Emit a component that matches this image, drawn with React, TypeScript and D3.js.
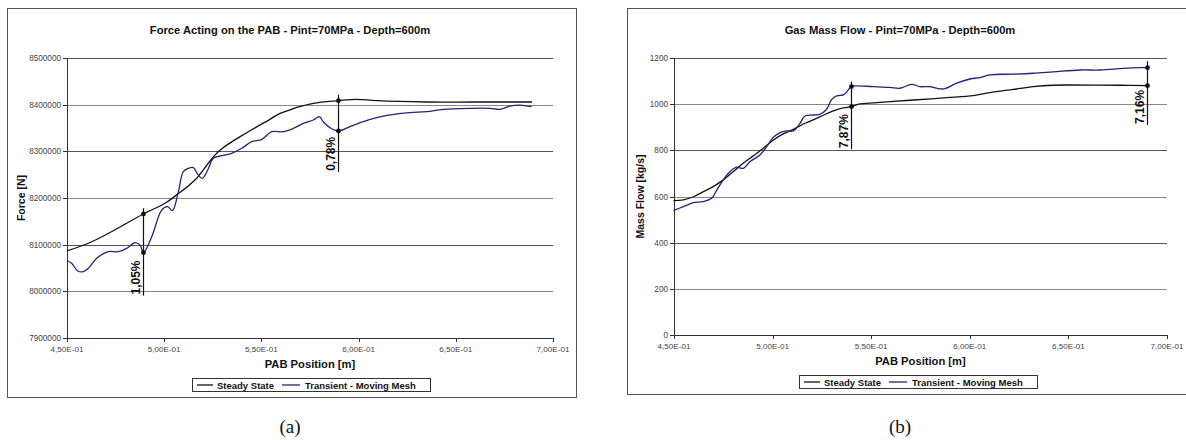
import React from "react";
import * as d3 from "d3";

// ---------- shared axis data ----------
const xTicks = [0.45, 0.5, 0.55, 0.6, 0.65, 0.7];
const xTickLabels = ["4,50E-01", "5,00E-01", "5,50E-01", "6,00E-01", "6,50E-01", "7,00E-01"];
const legendLabels = ["Steady State", "Transient - Moving Mesh"];

// ---------- chart (a): force ----------
const forceTicks = [7900000, 8000000, 8100000, 8200000, 8300000, 8400000, 8500000];
const forceSteadyX = [0.4503, 0.461, 0.4712, 0.4893, 0.5004, 0.5056, 0.5158, 0.5278, 0.5433, 0.5544, 0.5596, 0.5621, 0.5682, 0.5767, 0.5896, 0.599, 0.6093, 0.635, 0.66, 0.6892];
const forceSteadyY = [8087000, 8103000, 8124000, 8165700, 8188700, 8204000, 8238600, 8299300, 8342000, 8368600, 8381500, 8385000, 8394000, 8403000, 8408600, 8411400, 8408600, 8405700, 8405700, 8405700];
const forceTransX = [0.4503, 0.4524, 0.4555, 0.4584, 0.461, 0.4653, 0.4712, 0.4764, 0.4807, 0.485, 0.4876, 0.4893, 0.4936, 0.4987, 0.5018, 0.5042, 0.5073, 0.5098, 0.5124, 0.515, 0.5175, 0.5196, 0.5224, 0.5253, 0.5296, 0.5347, 0.5399, 0.545, 0.5502, 0.5553, 0.5613, 0.5664, 0.5716, 0.5767, 0.5798, 0.5818, 0.5853, 0.5896, 0.5956, 0.6024, 0.6093, 0.6162, 0.6264, 0.635, 0.6436, 0.6573, 0.6676, 0.6727, 0.6779, 0.683, 0.689];
const forceTransY = [8065000, 8060000, 8043600, 8042000, 8049400, 8070800, 8085000, 8085000, 8092200, 8104300, 8099000, 8082800, 8117000, 8174000, 8181400, 8172800, 8213600, 8256400, 8263600, 8265000, 8249300, 8242200, 8260000, 8285000, 8290700, 8295800, 8306500, 8320700, 8325800, 8342000, 8342000, 8349000, 8360000, 8367100, 8374300, 8363500, 8350700, 8343600, 8352900, 8363500, 8372000, 8377900, 8382800, 8385000, 8390000, 8392200, 8392200, 8390000, 8397000, 8399000, 8395700];
const forceAnnX = [0.4893, 0.5896];
const forceAnnSteady = [8165700, 8408600];
const forceAnnTrans = [8082800, 8343600];
const forceAnnTop = [8178000, 8421000];
const forceAnnBottom = [7991000, 8256000];
const forceAnnLabels = ["1,05%", "0,78%"];

// ---------- chart (b): mass flow ----------
const flowTicks = [0, 200, 400, 600, 800, 1000, 1200];
const flowSteadyX = [0.4497, 0.4547, 0.4598, 0.4649, 0.4699, 0.475, 0.4801, 0.4851, 0.4902, 0.4953, 0.5004, 0.5054, 0.5105, 0.5156, 0.5206, 0.5257, 0.5308, 0.5358, 0.5398, 0.5443, 0.5511, 0.5595, 0.5714, 0.5883, 0.6018, 0.6102, 0.6221, 0.6322, 0.6423, 0.6508, 0.6762, 0.69];
const flowSteadyY = [582, 585, 599, 621, 643, 672, 708, 744, 776, 809, 845, 871, 891, 914, 932, 952, 971, 984, 989, 1001, 1006, 1011, 1018, 1028, 1037, 1050, 1064, 1076, 1082, 1083, 1082, 1080];
const flowTransX = [0.4497, 0.4547, 0.4598, 0.4649, 0.4691, 0.4717, 0.475, 0.4784, 0.4818, 0.4851, 0.4885, 0.4936, 0.497, 0.5004, 0.5038, 0.5071, 0.5105, 0.5139, 0.5164, 0.5206, 0.524, 0.5274, 0.53, 0.5325, 0.5359, 0.5384, 0.5398, 0.541, 0.5511, 0.5595, 0.5646, 0.5705, 0.5747, 0.5798, 0.5849, 0.5874, 0.5934, 0.6001, 0.6052, 0.6102, 0.6221, 0.6322, 0.6423, 0.6559, 0.666, 0.6778, 0.6863, 0.69];
const flowTransY = [539, 556, 573, 578, 592, 628, 672, 708, 727, 722, 751, 780, 816, 857, 877, 884, 884, 917, 949, 953, 956, 978, 1021, 1036, 1040, 1062, 1076, 1079, 1076, 1073, 1069, 1086, 1076, 1076, 1066, 1067, 1091, 1109, 1115, 1127, 1130, 1134, 1140, 1148, 1148, 1155, 1158, 1158];
const flowAnnX = [0.5398, 0.69];
const flowAnnSteady = [989, 1080];
const flowAnnTrans = [1076, 1158];
const flowAnnTop = [1098, 1186];
const flowAnnBottom = [805, 910];
const flowAnnLabels = ["7,87%", "7,16%"];

const SANS = "'Liberation Sans', Arial, sans-serif";
const SERIF = "'Liberation Serif', 'Times New Roman', serif";
const BLUE = "#23237a";

type ChartProps = {
  frame: { x: number; y: number; w: number; h: number };
  plot: { x0: number; x1: number; y0: number; y1: number };
  title: string;
  titleX: number;
  yTitle: string;
  yTitleX: number;
  yTicks: number[];
  yDomain: [number, number];
  sX: number[];
  sY: number[];
  tX: number[];
  tY: number[];
  annX: number[];
  annS: number[];
  annT: number[];
  annTop: number[];
  annBottom: number[];
  annLabels: string[];
  legendX: number;
  legendY: number;
  caption: string;
  captionX: number;
};

function Chart(p: ChartProps) {
  const x = d3.scaleLinear().domain([0.45, 0.7]).range([p.plot.x0, p.plot.x1]);
  const y = d3.scaleLinear().domain(p.yDomain).range([p.plot.y1, p.plot.y0]);
  const line = d3
    .line<[number, number]>()
    .x((d) => x(d[0]))
    .y((d) => y(d[1]))
    .curve(d3.curveCatmullRom.alpha(0.5));
  const steady = line(p.sX.map((v, i) => [v, p.sY[i]]) as [number, number][]) || "";
  const trans = line(p.tX.map((v, i) => [v, p.tY[i]]) as [number, number][]) || "";
  const midX = (p.plot.x0 + p.plot.x1) / 2;
  const midY = (p.plot.y0 + p.plot.y1) / 2;
  const lx = p.legendX;
  const ly = p.legendY;
  return (
    <g>
      <rect x={p.frame.x + 0.5} y={p.frame.y + 0.5} width={p.frame.w} height={p.frame.h} fill="#fff" stroke="#555" strokeWidth={1} />
      <text x={p.titleX} y={34} textAnchor="middle" fontFamily={SANS} fontWeight="bold" fontSize={11.2} fill="#111">
        {p.title}
      </text>
      {/* gridlines and y ticks */}
      {p.yTicks.map((t, i) => (
        <g key={"g" + i}>
          {i > 0 && (
            <line x1={p.plot.x0} x2={p.plot.x1} y1={Math.round(y(t)) + 0.5} y2={Math.round(y(t)) + 0.5} stroke={i % 2 === 0 ? "#555" : "#888"} strokeWidth={1} />
          )}
          <line x1={p.plot.x0 - 4} x2={p.plot.x0} y1={Math.round(y(t)) + 0.5} y2={Math.round(y(t)) + 0.5} stroke="#333" />
          <text x={p.plot.x0 - 6} y={y(t) + 3} textAnchor="end" fontFamily={SANS} fontSize={8.2} fill="#444">
            {t}
          </text>
        </g>
      ))}
      {/* axes */}
      <line x1={p.plot.x0 + 0.5} x2={p.plot.x0 + 0.5} y1={p.plot.y0} y2={p.plot.y1} stroke="#333" />
      <line x1={p.plot.x0} x2={p.plot.x1} y1={p.plot.y1 + 0.5} y2={p.plot.y1 + 0.5} stroke="#333" />
      {xTicks.map((t, i) => (
        <g key={"x" + i}>
          <line x1={Math.round(x(t)) + 0.5} x2={Math.round(x(t)) + 0.5} y1={p.plot.y1} y2={p.plot.y1 + 4} stroke="#333" />
          <text x={x(t)} y={p.plot.y1 + 14} textAnchor="middle" fontFamily={SANS} fontSize={8.1} fill="#444">
            {xTickLabels[i]}
          </text>
        </g>
      ))}
      <text x={midX} y={p.plot.y1 + 30} textAnchor="middle" fontFamily={SANS} fontWeight="bold" fontSize={11.2} fill="#111">
        PAB Position [m]
      </text>
      <text
        transform={`translate(${p.yTitleX},${midY}) rotate(-90)`}
        textAnchor="middle"
        dy="0.35em"
        fontFamily={SANS}
        fontWeight="bold"
        fontSize={10.5}
        fill="#111"
      >
        {p.yTitle}
      </text>
      {/* series */}
      <path d={steady} fill="none" stroke="#111" strokeWidth={1.3} />
      <path d={trans} fill="none" stroke={BLUE} strokeWidth={1.3} />
      {/* annotations */}
      {p.annX.map((ax, i) => {
        const px = Math.round(x(ax)) + 0.5;
        const yb = y(p.annBottom[i]);
        return (
          <g key={"a" + i}>
            <line x1={px} x2={px} y1={y(p.annTop[i])} y2={yb} stroke="#111" strokeWidth={1.2} />
            <circle cx={px} cy={y(p.annS[i])} r={2.4} fill="#111" />
            <circle cx={px} cy={y(p.annT[i])} r={2.4} fill="#111" />
            <text
              transform={`translate(${px - 3.5},${yb - 1}) rotate(-90)`}
              textAnchor="start"
              fontFamily={SANS}
              fontWeight="bold"
              fontSize={12}
              fill="#111"
            >
              {p.annLabels[i]}
            </text>
          </g>
        );
      })}
      {/* legend */}
      <rect x={lx + 0.5} y={ly + 0.5} width={238} height={13} fill="#fff" stroke="#333" />
      <line x1={lx + 5} x2={lx + 21} y1={ly + 7} y2={ly + 7} stroke="#111" strokeWidth={1.3} />
      <text x={lx + 25} y={ly + 10.5} fontFamily={SANS} fontWeight="bold" fontSize={9.5} fill="#111">
        {legendLabels[0]}
      </text>
      <line x1={lx + 90} x2={lx + 108} y1={ly + 7} y2={ly + 7} stroke={BLUE} strokeWidth={1.3} />
      <text x={lx + 113} y={ly + 10.5} fontFamily={SANS} fontWeight="bold" fontSize={9.5} fill="#111">
        {legendLabels[1]}
      </text>
      <text x={p.captionX} y={433} textAnchor="middle" fontFamily={SERIF} fontSize={19} fill="#111">
        {p.caption}
      </text>
    </g>
  );
}

export default function App() {
  return (
    <svg
      width={1186}
      height={440}
      viewBox="0 0 1186 440"
      style={{ position: "absolute", left: 0, top: 0, background: "#fff" }}
    >
      <rect x={0} y={0} width={1186} height={440} fill="#fff" />
      <Chart
        frame={{ x: 7, y: 8, w: 569, h: 389 }}
        plot={{ x0: 67, x1: 553, y0: 58, y1: 338 }}
        title="Force Acting on the PAB - Pint=70MPa - Depth=600m"
        titleX={290}
        yTitle="Force [N]"
        yTitleX={21}
        yTicks={forceTicks}
        yDomain={[7900000, 8500000]}
        sX={forceSteadyX}
        sY={forceSteadyY}
        tX={forceTransX}
        tY={forceTransY}
        annX={forceAnnX}
        annS={forceAnnSteady}
        annT={forceAnnTrans}
        annTop={forceAnnTop}
        annBottom={forceAnnBottom}
        annLabels={forceAnnLabels}
        legendX={192}
        legendY={378}
        caption="(a)"
        captionX={290}
      />
      <Chart
        frame={{ x: 627, y: 8, w: 600, h: 386 }}
        plot={{ x0: 674, x1: 1167, y0: 58, y1: 335 }}
        title="Gas Mass Flow - Pint=70MPa - Depth=600m"
        titleX={900}
        yTitle="Mass Flow [kg/s]"
        yTitleX={640}
        yTicks={flowTicks}
        yDomain={[0, 1200]}
        sX={flowSteadyX}
        sY={flowSteadyY}
        tX={flowTransX}
        tY={flowTransY}
        annX={flowAnnX}
        annS={flowAnnSteady}
        annT={flowAnnTrans}
        annTop={flowAnnTop}
        annBottom={flowAnnBottom}
        annLabels={flowAnnLabels}
        legendX={799}
        legendY={375}
        caption="(b)"
        captionX={900}
      />
    </svg>
  );
}
